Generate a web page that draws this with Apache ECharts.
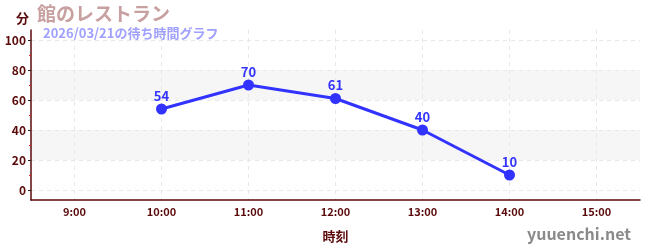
<!DOCTYPE html>
<html><head><meta charset="utf-8">
<script src="https://cdn.jsdelivr.net/npm/echarts@6/dist/echarts.min.js"></script>
<style>html,body{margin:0;padding:0;background:#fff}#c{width:650px;height:250px}</style>
</head><body><div id="c"></div>
<script>
const categories = ['9:00','10:00','11:00','12:00','13:00','14:00','15:00'];
const waitTimes = [null, 54, 70, 61, 40, 10, null];
const yTicks = [0, 20, 40, 60, 80, 100];

const FONT = '"Noto Sans CJK JP", "Noto Sans", sans-serif';
const DARK = '#5a0a0a';
const chart = echarts.init(document.getElementById('c'), null, {renderer: 'canvas'});
chart.setOption({
  animation: false,
  backgroundColor: '#fff',
  textStyle: {fontFamily: FONT},
  title: [
    {text: '館のレストラン', left: 32, top: -1, textStyle: {fontSize: 19, fontWeight: 'bold', color: '#c8a0a0', fontFamily: FONT}},
    {text: '2026/03/21の待ち時間グラフ', left: 38, top: 22, textStyle: {fontSize: 13, fontWeight: 'bold', color: '#a0a0ff', fontFamily: FONT}},
    {text: '分', left: 11, top: 7, textStyle: {fontSize: 13, fontWeight: 'bold', color: DARK, fontFamily: FONT}},
    {text: 'yuuenchi.net', right: 14, top: 221, textStyle: {fontSize: 16, fontWeight: 'bold', color: '#8a8a8a', fontFamily: FONT}}
  ],
  grid: [
    {left: 31, right: 10, top: 40, bottom: 60},
    {left: 31, right: 10, top: 30, bottom: 50}
  ],
  xAxis: [
    {gridIndex: 0, type: 'category', data: categories, show: false, boundaryGap: true},
    {gridIndex: 1, type: 'category', data: categories, boundaryGap: true,
     axisLine: {lineStyle: {color: DARK, width: 1.5}},
     axisTick: {alignWithLabel: true, length: 3, lineStyle: {color: '#333'}},
     axisLabel: {color: DARK, fontSize: 11, fontWeight: 'bold', margin: 6, fontFamily: FONT},
     splitLine: {show: true, alignWithLabel: true, lineStyle: {color: '#e8e8e8', type: [4, 4]}},
     name: '時刻', nameLocation: 'middle', nameGap: 30,
     nameTextStyle: {color: DARK, fontSize: 13, fontWeight: 'bold', fontFamily: FONT}}
  ],
  yAxis: [
    {gridIndex: 0, type: 'value', min: yTicks[0], max: yTicks[yTicks.length - 1], interval: 20,
     axisLine: {show: false},
     axisTick: {show: true, length: 3, lineStyle: {color: '#222'}},
     minorTick: {show: true, splitNumber: 2, length: 2, lineStyle: {color: '#dd2222'}},
     axisLabel: {color: DARK, fontSize: 12, fontWeight: 'bold', margin: 5, fontFamily: FONT},
     splitLine: {show: true, lineStyle: {color: '#e8e8e8', type: [4, 4]}},
     splitArea: {show: true, areaStyle: {color: ['rgba(255,255,255,0)', '#f6f6f6']}}},
    {gridIndex: 1, type: 'value', min: 0, max: 1,
     axisLine: {show: true, lineStyle: {color: DARK, width: 1.5}},
     axisTick: {show: false}, axisLabel: {show: false}, splitLine: {show: false}}
  ],
  series: [{
    type: 'line', xAxisIndex: 0, yAxisIndex: 0, data: waitTimes,
    connectNulls: false,
    symbol: 'circle', symbolSize: 11,
    lineStyle: {color: '#3333ff', width: 3},
    itemStyle: {color: '#3333ff'},
    label: {show: true, position: 'top', distance: 1, color: '#3333ff', fontSize: 13, fontWeight: 'bold', fontFamily: FONT}
  }]
});
</script></body></html>
